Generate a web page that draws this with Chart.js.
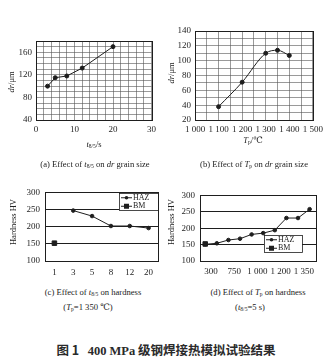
<!DOCTYPE html>
<html>
<head>
<meta charset="utf-8">
<script src="https://cdn.jsdelivr.net/npm/chart.js@4/dist/chart.umd.min.js"></script>
<style>
body{margin:0;background:#fff;width:327px;height:362px;position:relative;overflow:hidden;font-family:"Liberation Serif","DejaVu Serif",serif;color:#222}
canvas{position:absolute}
.cap{position:absolute;white-space:nowrap;font-size:8.6px;transform:translate(-50%,-50%);line-height:1}
.axt{position:absolute;white-space:nowrap;font-size:8.5px;transform:translate(-50%,-50%);line-height:1}
.yt{position:absolute;white-space:nowrap;font-size:8.5px;line-height:1;transform:translate(-50%,-50%) rotate(-90deg)}
sub{font-size:65%;vertical-align:-1px}
.fig{position:absolute;left:166px;top:351px;transform:translate(-50%,-50%);white-space:nowrap;font-size:12.5px;font-weight:bold;font-family:"Noto Sans CJK SC",sans-serif;line-height:1;color:#2a2a2a}
.fig .n{font-family:"Liberation Serif",serif}
</style>
</head>
<body>
<canvas id="cA" width="160" height="110" style="left:0;top:30px"></canvas>
<canvas id="cB" width="167" height="120" style="left:160px;top:20px"></canvas>
<canvas id="cC" width="165" height="100" style="left:0;top:182px"></canvas>
<canvas id="cD" width="162" height="95" style="left:165px;top:185px"></canvas>

<div class="yt" style="left:11px;top:82px"><i>dr</i>/μm</div>
<div class="axt" style="left:94px;top:145px"><i>t</i><sub>8/5</sub>/s</div>
<div class="cap" style="left:95px;top:165px">(a) Effect of <i>t</i><sub>8/5</sub> on <i>dr</i> grain size</div>

<div class="yt" style="left:171px;top:73px"><i>dr</i>/μm</div>
<div class="axt" style="left:253px;top:141px"><i>T</i><sub>p</sub>/℃</div>
<div class="cap" style="left:254px;top:165px">(b) Effect of <i>T</i><sub>p</sub> on <i>dr</i> grain size</div>

<div class="yt" style="left:13px;top:222px">Hardness HV</div>
<div class="cap" style="left:93px;top:293px">(c) Effect of <i>t</i><sub>8/5</sub> on hardness</div>
<div class="cap" style="left:88px;top:308px">(<i>T</i><sub>p</sub>=1 350 ℃)</div>

<div class="yt" style="left:171px;top:222px">Hardness HV</div>
<div class="cap" style="left:258px;top:293px">(d) Effect of <i>T</i><sub>p</sub> on hardness</div>
<div class="cap" style="left:250px;top:308px">(<i>t</i><sub>8/5</sub>=5 s)</div>

<div class="fig">图 1&nbsp;&nbsp;&nbsp;<span class="n">400 MPa</span> 级钢焊接热模拟试验结果</div>

<script>
// (a) cooling time t8/5 vs grain size
const coolTimes = [3, 5, 8, 12, 20];
const grainByTime = [100, 115, 118, 132, 170];

// (b) peak temperature vs grain size
const peakTemps = [1100, 1200, 1300, 1350, 1400];
const grainByTemp = [38, 71, 110, 114, 107];

// (c) hardness vs t8/5
const timeLabels = ['1', '3', '5', '8', '12', '20'];
const hazByTime = [null, 247, 231, 202, 202, 196];
const bmByTime = [152, null, null, null, null, null];

// (d) hardness vs peak temperature
const tempTickLabels = ['300', '750', '1 000', '1 200', '1 350'];
const hazByTemp = [151, 154, 164, 168, 181, 185, 194, 231, 231, 258];
const bmByTemp = [152];

const INK = '#1e1e1e';
const tickFont = {family: '"Liberation Serif", serif', size: 9};

// frame around the plot area
const frame = {
    id: 'frame',
    afterDraw(chart) {
        const a = chart.chartArea, ctx = chart.ctx;
        ctx.save();
        ctx.strokeStyle = INK;
        ctx.lineWidth = 1;
        ctx.strokeRect(Math.round(a.left) + 0.5, Math.round(a.top) + 0.5,
            Math.round(a.right - a.left), Math.round(a.bottom - a.top));
        ctx.restore();
    }
};

// small boxed key, placed by pixel position from options
const keyBox = {
    id: 'keyBox',
    afterDatasetsDraw(chart, args, o) {
        const ctx = chart.ctx, sets = chart.data.datasets;
        ctx.save();
        ctx.fillStyle = '#fff';
        ctx.fillRect(o.x, o.y, o.w, o.h);
        ctx.strokeStyle = INK;
        ctx.lineWidth = 0.8;
        ctx.strokeRect(o.x + 0.5, o.y + 0.5, o.w, o.h);
        ctx.font = '8px "Liberation Serif", serif';
        ctx.textBaseline = 'middle';
        sets.forEach((ds, i) => {
            const y = o.y + o.h * (i + 0.5) / sets.length + 0.5;
            ctx.strokeStyle = INK;
            ctx.lineWidth = 1;
            ctx.beginPath();
            ctx.moveTo(o.x + 2, y);
            ctx.lineTo(o.x + 13, y);
            ctx.stroke();
            ctx.fillStyle = INK;
            if (ds.pointStyle === 'rect') {
                ctx.fillRect(o.x + 5, y - 2.5, 5, 5);
            } else {
                ctx.beginPath();
                ctx.arc(o.x + 7.5, y, 1.8, 0, Math.PI * 2);
                ctx.fill();
            }
            ctx.fillText(ds.label, o.x + 14, y);
        });
        ctx.restore();
    }
};

function fixW(w) { return s => { s.width = w; }; }
function fixH(h) { return s => { s.height = h; }; }

function lineSet(label, data, extra) {
    return Object.assign({
        label: label,
        data: data,
        borderColor: INK,
        backgroundColor: INK,
        borderWidth: 1,
        pointRadius: 2,
        pointStyle: 'circle',
        tension: 0,
        spanGaps: true
    }, extra || {});
}

const baseOpts = {
    responsive: false,
    animation: false,
    events: [],
    plugins: {legend: {display: false}, tooltip: {enabled: false}}
};

function gridAxis(min, max, step, every, size, fmt) {
    return {
        type: 'linear', min: min, max: max,
        afterFit: size,
        border: {display: false},
        grid: {color: '#555', lineWidth: 0.6, drawTicks: false},
        ticks: {
            stepSize: step, autoSkip: false, maxRotation: 0, padding: 4,
            color: INK, font: tickFont,
            callback: v => v % every === 0 ? (fmt ? fmt(v) : v) : ''
        }
    };
}

const spaced = v => String(v).replace(/(\d)(\d{3})$/, '$1 $2');

// (a)
new Chart(document.getElementById('cA'), {
    type: 'line',
    data: {datasets: [lineSet('dr', coolTimes.map((t, i) => ({x: t, y: grainByTime[i]})))]},
    options: Object.assign({}, baseOpts, {
        layout: {padding: {top: 11, right: 8, left: 0, bottom: 0}},
        scales: {
            x: gridAxis(0, 30, 2, 10, fixH(20)),
            y: gridAxis(40, 180, 10, 40, fixW(36))
        }
    }),
    plugins: [frame]
});

// (b)
new Chart(document.getElementById('cB'), {
    type: 'line',
    data: {datasets: [lineSet('dr', peakTemps.map((t, i) => ({x: t, y: grainByTemp[i]})),
        {cubicInterpolationMode: 'monotone'})]},
    options: Object.assign({}, baseOpts, {
        layout: {padding: {top: 11, right: 14, left: 0, bottom: 0}},
        scales: {
            x: gridAxis(1000, 1500, 50, 100, fixH(20), spaced),
            y: gridAxis(20, 140, 10, 20, fixW(35))
        }
    }),
    plugins: [frame]
});

function hardnessY(w) {
    return {
        type: 'linear', min: 100, max: 300,
        afterFit: fixW(w),
        border: {display: false},
        grid: {
            drawTicks: false, lineWidth: 1,
            color: c => (c.tick.value > 100 && c.tick.value < 300) ? INK : 'transparent'
        },
        ticks: {stepSize: 50, padding: 5, color: INK, font: tickFont}
    };
}

// (c)
new Chart(document.getElementById('cC'), {
    type: 'line',
    data: {
        labels: timeLabels,
        datasets: [
            lineSet('HAZ', hazByTime, {pointRadius: 1.8}),
            lineSet('BM', bmByTime, {pointStyle: 'rect', pointRadius: 3.2})
        ]
    },
    options: Object.assign({}, baseOpts, {
        layout: {padding: {top: 10, right: 7, left: 0, bottom: 0}},
        scales: {
            x: {
                type: 'category', offset: true,
                afterFit: fixH(21),
                border: {display: false},
                grid: {display: false, drawTicks: false},
                ticks: {padding: 6, color: INK, font: tickFont, maxRotation: 0}
            },
            y: hardnessY(45)
        },
        plugins: Object.assign({}, baseOpts.plugins, {
            keyBox: {x: 119, y: 11, w: 39, h: 17}
        })
    }),
    plugins: [frame, keyBox]
});

// (d)
const tempTickPos = tempTickLabels.map((_, i) => i * 2 + 0.5);
new Chart(document.getElementById('cD'), {
    type: 'line',
    data: {
        datasets: [
            lineSet('HAZ', hazByTemp.map((v, i) => ({x: i, y: v})), {pointRadius: 1.8}),
            lineSet('BM', bmByTemp.map((v, i) => ({x: i, y: v})), {pointStyle: 'rect', pointRadius: 3.2})
        ]
    },
    options: Object.assign({}, baseOpts, {
        layout: {padding: {top: 10, right: 11, left: 0, bottom: 0}},
        scales: {
            x: {
                type: 'linear', min: -0.45, max: 9.55,
                afterFit: fixH(19),
                afterBuildTicks: s => { s.ticks = tempTickPos.map(v => ({value: v})); },
                border: {display: false},
                grid: {display: false, drawTicks: false},
                ticks: {
                    padding: 5, color: INK, font: tickFont, maxRotation: 0, autoSkip: false,
                    callback: (v, i) => tempTickLabels[i]
                }
            },
            y: hardnessY(35)
        },
        plugins: Object.assign({}, baseOpts.plugins, {
            keyBox: {x: 99, y: 50, w: 38, h: 17}
        })
    }),
    plugins: [frame, keyBox]
});
</script>
</body>
</html>
